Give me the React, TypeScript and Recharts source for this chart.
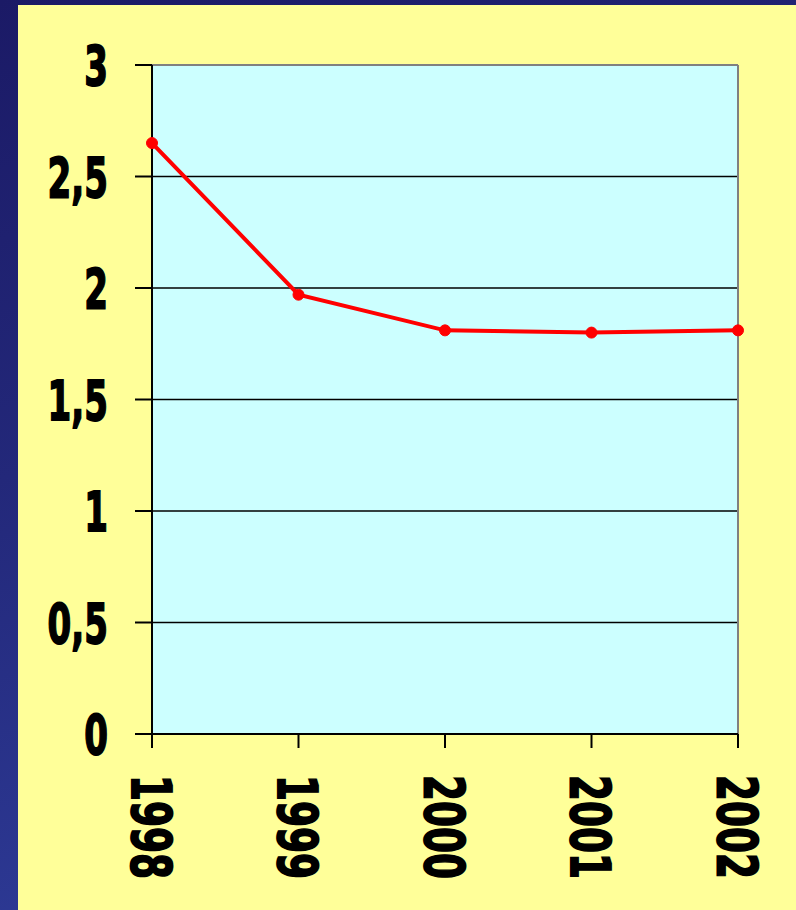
import { LineChart, Line, XAxis, YAxis, CartesianGrid, ReferenceLine } from "recharts";

const years = ["1998", "1999", "2000", "2001", "2002"];
const values = [2.65, 1.97, 1.81, 1.8, 1.81];
const yTicks = [0, 0.5, 1, 1.5, 2, 2.5, 3];

const data = years.map((year, i) => ({ year, value: values[i] }));

const FONT = "'DejaVu Sans', sans-serif";

const YTick = (props: any) => {
  const { x, y, payload } = props;
  const label = String(payload.value).replace(".", ",");
  return (
    <g transform={`translate(${x},${y}) scale(0.62,1)`}>
      <text
        x={0}
        y={20}
        textAnchor="end"
        fontFamily={FONT}
        fontWeight="bold"
        fontSize={55}
        fill="#000"
        stroke="#000"
        strokeWidth={1.8}
      >
        {label}
      </text>
    </g>
  );
};

const XTick = (props: any) => {
  const { x, payload } = props;
  return (
    <g transform={`translate(${x},775) rotate(90) scale(0.68,1)`}>
      <text
        x={0}
        y={20}
        textAnchor="start"
        fontFamily={FONT}
        fontWeight="bold"
        fontSize={55}
        fill="#000"
        stroke="#000"
        strokeWidth={1.8}
      >
        {payload.value}
      </text>
    </g>
  );
};

const App = () => {
  return (
    <div
      style={{
        position: "absolute",
        left: 0,
        top: 0,
        width: 796,
        height: 910,
        background: "linear-gradient(160deg, #1b1a66 0%, #23287a 40%, #3242a2 100%)",
        overflow: "hidden",
      }}
    >
      <div
        style={{
          position: "absolute",
          left: 18,
          top: 5,
          width: 778,
          height: 905,
          background: "#FFFF99",
        }}
      />
      <div style={{ position: "absolute", left: 0, top: 0 }}>
        <LineChart
          width={796}
          height={910}
          data={data}
          margin={{ top: 65, right: 58, left: 0, bottom: 0 }}
        >
          <CartesianGrid
            fill="#CCFFFF"
            vertical={false}
            stroke="#000"
            strokeWidth={1.5}
            strokeOpacity={1}
          />
          <XAxis
            dataKey="year"
            height={176}
            interval={0}
            axisLine={{ stroke: "#000", strokeWidth: 2 }}
            tickLine={{ stroke: "#000", strokeWidth: 2 }}
            tickSize={14}
            tick={<XTick />}
          />
          <YAxis
            width={152}
            domain={[0, 3]}
            ticks={yTicks}
            interval={0}
            axisLine={{ stroke: "#000", strokeWidth: 2 }}
            tickLine={{ stroke: "#000", strokeWidth: 2 }}
            tickSize={17}
            tickMargin={27}
            tick={<YTick />}
          />
          <ReferenceLine y={3} stroke="#808080" strokeWidth={2} />
          <ReferenceLine x="2002" stroke="#808080" strokeWidth={2} />
          <Line
            type="linear"
            dataKey="value"
            stroke="#FF0000"
            strokeWidth={4}
            dot={{ r: 5.5, fill: "#FF0000", stroke: "#FF0000", strokeWidth: 1 }}
            isAnimationActive={false}
          />
        </LineChart>
      </div>
    </div>
  );
};

export default App;
